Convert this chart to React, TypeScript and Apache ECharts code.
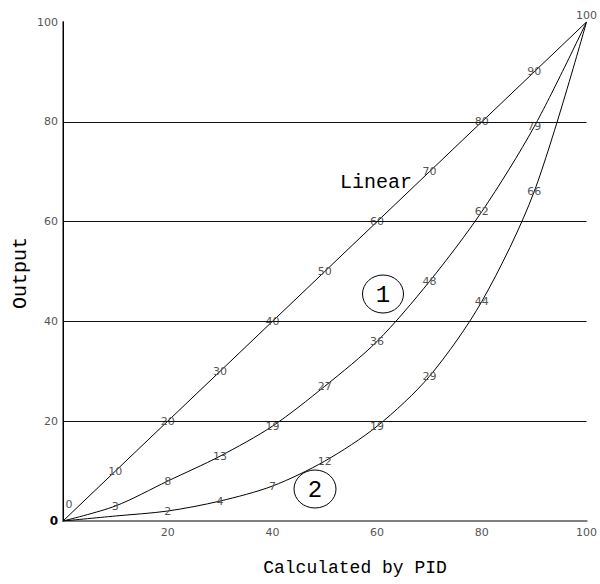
import React, { useEffect, useRef } from "react";
import * as echarts from "echarts";

const xValues = [0, 10, 20, 30, 40, 50, 60, 70, 80, 90, 100];
const linearValues = [0, 10, 20, 30, 40, 50, 60, 70, 80, 90, 100];
const curve1Values = [0, 3, 8, 13, 19, 27, 36, 48, 62, 79, 100];
const curve2Values = [0, 1, 2, 4, 7, 12, 19, 29, 44, 66, 100];
const linearLabels = ["0", "10", "20", "30", "40", "50", "60", "70", "80", "90", "100"];
const curve1Labels = ["", "3", "8", "13", "19", "27", "36", "48", "62", "79", ""];
const curve2Labels = ["", "", "2", "4", "7", "12", "19", "29", "44", "66", ""];
const gridValues = [20, 40, 60, 80];
const axisTicks = [0, 20, 40, 60, 80, 100];

const MONO = "'Liberation Mono', 'DejaVu Sans Mono', monospace";
const SANS = "'DejaVu Sans', sans-serif";

function makeSeries(name: string, values: number[], labels: string[], withGrid: boolean) {
  const data = xValues.map((x, i) => {
    const item: any = { value: [x, values[i]] };
    if (name === "Linear" && i === 0) {
      item.label = { offset: [6, -17] };
    }
    if (name === "Linear" && i === xValues.length - 1) {
      item.label = { position: "top", distance: 1 };
    }
    return item;
  });
  const s: any = {
    name,
    type: "line",
    smooth: name === "Linear" ? false : 0.3,
    symbol: "circle",
    symbolSize: 0,
    showSymbol: true,
    data,
    lineStyle: { color: "#000", width: 1 },
    itemStyle: { color: "#000" },
    label: {
      show: true,
      position: "inside",
      color: "#555",
      fontFamily: SANS,
      fontSize: 11,
      formatter: (p: any) => labels[p.dataIndex],
    },
    z: 3,
  };
  if (withGrid) {
    s.markLine = {
      silent: true,
      symbol: "none",
      label: { show: false },
      lineStyle: { color: "#111", width: 1, type: "solid" },
      data: gridValues.map((v) => ({ yAxis: v })),
    };
  }
  return s;
}

export default function App() {
  const ref = useRef<HTMLDivElement>(null);
  useEffect(() => {
    if (!ref.current) return;
    const chart = echarts.init(ref.current, null, { renderer: "svg" });
    chart.setOption({
      animation: false,
      backgroundColor: "#fff",
      grid: { left: 63, right: 13, top: 22, bottom: 63 },
      xAxis: [
        {
          type: "value",
          min: 0,
          max: 100,
          interval: 20,
          splitLine: { show: false },
          axisTick: { show: false },
          axisLine: { show: true, lineStyle: { color: "#808080", width: 2 } },
          axisLabel: {
            color: "#555",
            fontFamily: SANS,
            fontSize: 11,
            margin: 6,
            formatter: (v: number) => (v === 0 ? "" : String(v)),
          },
        },
        {
          type: "value",
          position: "top",
          min: 0,
          max: 100,
          splitLine: { show: false },
          axisTick: { show: false },
          axisLabel: { show: false },
          axisLine: { show: true, lineStyle: { color: "#808080", width: 2 } },
        },
      ],
      yAxis: [
        {
          type: "value",
          min: 0,
          max: 100,
          interval: 20,
          splitLine: { show: false },
          axisTick: { show: false },
          axisLine: { show: true, lineStyle: { color: "#808080", width: 2 } },
          axisLabel: {
            color: "#555",
            fontFamily: SANS,
            fontSize: 11,
            margin: 5,
            formatter: (v: number) => (v === 0 ? "{b|0}" : String(v)),
            rich: { b: { color: "#000", fontWeight: "bold", fontFamily: SANS, fontSize: 12 } },
          },
        },
        {
          type: "value",
          position: "right",
          min: 0,
          max: 100,
          splitLine: { show: false },
          axisTick: { show: false },
          axisLabel: { show: false },
          axisLine: { show: true, lineStyle: { color: "#000", width: 1 } },
        },
      ],
      series: [
        makeSeries("Linear", linearValues, linearLabels, true),
        makeSeries("Curve 1", curve1Values, curve1Labels, false),
        makeSeries("Curve 2", curve2Values, curve2Labels, false),
      ],
      graphic: [
        {
          type: "text",
          x: 376,
          y: 182,
          style: { text: "Linear", fontFamily: MONO, fontSize: 20, fill: "#000", align: "center", verticalAlign: "middle" },
        },
        {
          type: "ellipse",
          shape: { cx: 383, cy: 294, rx: 20.5, ry: 19 },
          style: { fill: "none", stroke: "#000", lineWidth: 1 },
        },
        {
          type: "text",
          x: 383,
          y: 295,
          style: { text: "1", fontFamily: MONO, fontSize: 24, fill: "#000", align: "center", verticalAlign: "middle" },
        },
        {
          type: "ellipse",
          shape: { cx: 315, cy: 489, rx: 21, ry: 19 },
          style: { fill: "none", stroke: "#000", lineWidth: 1 },
        },
        {
          type: "text",
          x: 315,
          y: 490,
          style: { text: "2", fontFamily: MONO, fontSize: 24, fill: "#000", align: "center", verticalAlign: "middle" },
        },
        {
          type: "text",
          x: 355,
          y: 568,
          style: { text: "Calculated by PID", fontFamily: MONO, fontSize: 18, fill: "#000", align: "center", verticalAlign: "middle" },
        },
        {
          type: "text",
          x: 20,
          y: 273,
          rotation: Math.PI / 2,
          style: { text: "Output", fontFamily: MONO, fontSize: 20, fill: "#000", align: "center", verticalAlign: "middle" },
        },
      ],
    });
    return () => chart.dispose();
  }, []);
  return (
    <div
      ref={ref}
      style={{ position: "fixed", left: 0, top: 0, width: 600, height: 584, background: "#fff" }}
    />
  );
}
